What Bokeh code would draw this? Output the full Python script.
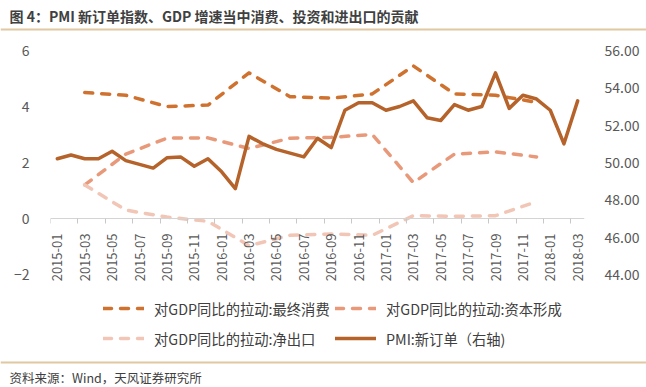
import math
from bokeh.plotting import figure
from bokeh.layouts import column
from bokeh.models import (LinearAxis, Range1d, FixedTicker, NumeralTickFormatter,
                          Legend, LegendItem, Label, Span, ColumnDataSource)
from bokeh.embed import file_html
from bokeh.resources import INLINE

# ---------------- data ----------------
months = ["2015-01", "2015-02", "2015-03", "2015-04", "2015-05", "2015-06",
          "2015-07", "2015-08", "2015-09", "2015-10", "2015-11", "2015-12",
          "2016-01", "2016-02", "2016-03", "2016-04", "2016-05", "2016-06",
          "2016-07", "2016-08", "2016-09", "2016-10", "2016-11", "2016-12",
          "2017-01", "2017-02", "2017-03", "2017-04", "2017-05", "2017-06",
          "2017-07", "2017-08", "2017-09", "2017-10", "2017-11", "2017-12",
          "2018-01", "2018-02", "2018-03"]

# PMI new orders index (right axis), monthly
pmi_new_orders = [50.2, 50.4, 50.2, 50.2, 50.6, 50.1, 49.9, 49.7, 50.25, 50.3, 49.8, 50.2,
                  49.5, 48.6, 51.4, 51.0, 50.7, 50.5, 50.3, 51.3, 50.8, 52.8, 53.2, 53.2,
                  52.8, 53.0, 53.3, 52.4, 52.25, 53.1, 52.8, 53.0, 54.8, 52.9, 53.6, 53.4,
                  52.8, 51.0, 53.3]

# quarterly contributions to GDP growth (left axis)
quarters = ["2015-03", "2015-06", "2015-09", "2015-12", "2016-03", "2016-06",
            "2016-09", "2016-12", "2017-03", "2017-06", "2017-09", "2017-12"]
consumption = [4.5, 4.4, 4.0, 4.05, 5.2, 4.35, 4.3, 4.45, 5.45, 4.45, 4.4, 4.15]
capital = [1.2, 2.3, 2.87, 2.88, 2.5, 2.87, 2.9, 3.0, 1.28, 2.3, 2.38, 2.2]
net_exports = [1.2, 0.3, 0.05, -0.1, -0.97, -0.6, -0.55, -0.6, 0.1, 0.08, 0.1, 0.6]

left_ticks = [-2, 0, 2, 4, 6]
right_ticks = [44, 46, 48, 50, 52, 54, 56]

series_names = ["对GDP同比的拉动:最终消费", "对GDP同比的拉动:资本形成",
                "对GDP同比的拉动:净出口", "PMI:新订单（右轴)"]
title_text = "图 4：PMI 新订单指数、GDP 增速当中消费、投资和进出口的贡献"
source_text = "资料来源：Wind，天风证券研究所"

# ---------------- style ----------------
FONT = "Noto Sans CJK SC"
C_CONS = "#D0722F"
C_CAP = "#E8997A"
C_NET = "#F2C6B6"
C_PMI = "#B5632A"
TEXT = "#404040"
TICK = "#595959"
TAN = "#dfc8a2"
W = 646

# layout (pixels)
TOP_H = 32          # title strip
MAIN_H = 324        # plot strip
BOT_H = 31          # source strip
FRAME_TOP = 18      # inside main strip
PX_PER_UNIT = 28    # left axis pixels per unit
EXTRA_BELOW = 82    # frame continues below the -2 level (legend lives there)

def strip(h):
    f = figure(width=W, height=h, output_backend="svg", toolbar_location=None,
               x_axis_type=None, y_axis_type=None, min_border=0,
               outline_line_color=None, x_range=Range1d(0, W), y_range=Range1d(0, h))
    f.xgrid.visible = False
    f.ygrid.visible = False
    f.frame_align = False
    return f

# ---------------- title strip ----------------
top = strip(TOP_H)
top.add_layout(Label(x=9, y=TOP_H - 15, text=title_text,
                     text_baseline="middle", text_font=FONT, text_font_size="14px",
                     text_font_style="bold", text_color=TEXT))
top.add_layout(Span(location=TOP_H - 29, dimension="width", line_color=TAN, line_width=2))

# ---------------- main plot ----------------
y_lo = left_ticks[0] - EXTRA_BELOW / PX_PER_UNIT
r_scale = (right_ticks[-1] - right_ticks[0]) / (left_ticks[-1] - left_ticks[0])
r_lo = right_ticks[0] - (left_ticks[0] - y_lo) * r_scale

p = figure(width=W, height=MAIN_H, output_backend="svg", toolbar_location=None,
           x_range=Range1d(-0.5, len(months) - 0.5), y_range=Range1d(y_lo, left_ticks[-1]),
           x_axis_type=None, y_axis_type=None,
           min_border_left=50, min_border_right=62, min_border_top=FRAME_TOP,
           min_border_bottom=0, outline_line_color=None)
p.frame_align = False
p.xgrid.visible = False
p.ygrid.visible = False
p.extra_y_ranges = {"pmi": Range1d(r_lo, right_ticks[-1])}

lax = LinearAxis(ticker=FixedTicker(ticks=left_ticks))
lax.axis_line_color = None
lax.major_tick_line_color = None
lax.minor_tick_line_color = None
lax.major_label_standoff = 15
lax.major_label_text_font = FONT
lax.major_label_text_font_size = "14px"
lax.major_label_text_color = TICK
p.add_layout(lax, "left")

rax = LinearAxis(y_range_name="pmi", ticker=FixedTicker(ticks=right_ticks),
                 formatter=NumeralTickFormatter(format="0.00"))
rax.axis_line_color = None
rax.major_tick_line_color = None
rax.minor_tick_line_color = None
rax.major_label_standoff = 14
rax.major_label_text_font = FONT
rax.major_label_text_font_size = "14px"
rax.major_label_text_color = TICK
p.add_layout(rax, "right")

label_pos = list(range(0, len(months), 2))
tick_pos = [i - 0.5 for i in label_pos]
xax = LinearAxis(ticker=FixedTicker(ticks=label_pos, minor_ticks=tick_pos),
                 major_label_overrides={i: months[i] for i in label_pos},
                 fixed_location=0)
xax.major_label_orientation = math.pi / 2
xax.axis_line_color = "#d4d4d4"
xax.major_tick_line_color = None
xax.major_tick_out = 0
xax.major_tick_in = 0
xax.minor_tick_line_color = "#c8c8c8"
xax.minor_tick_out = 5
xax.minor_tick_in = 0
xax.major_label_standoff = 10
xax.major_label_text_font = FONT
xax.major_label_text_font_size = "13px"
xax.major_label_text_color = TICK
p.add_layout(xax, "below")

src_q = ColumnDataSource(dict(x=[months.index(m) for m in quarters],
                              consumption=consumption, capital=capital, net=net_exports))
src_m = ColumnDataSource(dict(x=list(range(len(months))), pmi=pmi_new_orders))

dash = "8 9"
r1 = p.line("x", "consumption", source=src_q, line_color=C_CONS, line_width=3.5,
            line_dash=dash, line_cap="round", line_join="round")
r2 = p.line("x", "capital", source=src_q, line_color=C_CAP, line_width=3.5,
            line_dash=dash, line_cap="round", line_join="round")
r3 = p.line("x", "net", source=src_q, line_color=C_NET, line_width=3.5,
            line_dash=dash, line_cap="round", line_join="round")
r4 = p.line("x", "pmi", source=src_m, y_range_name="pmi", line_color=C_PMI,
            line_width=3.5, line_join="round", line_cap="round")

legend = Legend(items=[LegendItem(label=series_names[0], renderers=[r1]),
                       LegendItem(label=series_names[1], renderers=[r2]),
                       LegendItem(label=series_names[2], renderers=[r3]),
                       LegendItem(label=series_names[3], renderers=[r4])],
                location=(53, 3), orientation="horizontal", ncols=2,
                padding=0, margin=0, spacing=0, glyph_width=41, glyph_height=30,
                label_height=30, label_width=181, label_standoff=10,
                border_line_color=None,
                background_fill_alpha=0, label_text_font=FONT,
                label_text_font_size="14.3px", label_text_color=TEXT)
p.add_layout(legend, "center")

# ---------------- source strip ----------------
bot = strip(BOT_H)
bot.add_layout(Span(location=BOT_H - 6, dimension="width", line_color=TAN, line_width=2))
bot.add_layout(Label(x=9, y=BOT_H - 21, text=source_text,
                     text_baseline="middle", text_font=FONT, text_font_size="12.5px",
                     text_color=TEXT))

layout = column(top, p, bot, spacing=0)
open("out.html", "w").write(file_html(layout, INLINE))
